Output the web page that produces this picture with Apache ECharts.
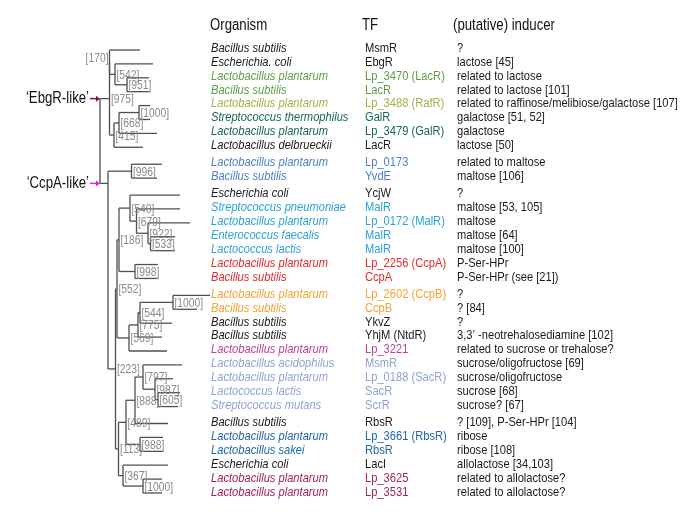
<!DOCTYPE html>
<html><head><meta charset="utf-8">
<script src="https://cdn.jsdelivr.net/npm/echarts/dist/echarts.min.js"></script>
<style>html,body{margin:0;padding:0;background:#fff}#c{width:685px;height:513px}</style>
</head><body><div id="c"></div>
<script>
// ---------- data ----------
const organisms = ['Bacillus subtilis','Escherichia. coli','Lactobacillus plantarum','Bacillus subtilis','Lactobacillus plantarum','Streptococcus thermophilus','Lactobacillus plantarum','Lactobacillus delbrueckii',
'Lactobacillus plantarum','Bacillus subtilis',
'Escherichia coli','Streptococcus pneumoniae','Lactobacillus plantarum','Enterococcus faecalis','Lactococcus lactis','Lactobacillus plantarum','Bacillus subtilis',
'Lactobacillus plantarum','Bacillus subtilis','Bacillus subtilis','Bacillus subtilis','Lactobacillus plantarum','Lactobacillus acidophilus','Lactobacillus plantarum','Lactococcus lactis','Streptococcus mutans',
'Bacillus subtilis','Lactobacillus plantarum','Lactobacillus sakei','Escherichia coli','Lactobacillus plantarum','Lactobacillus plantarum'];
const tfs = ['MsmR','EbgR','Lp_3470 (LacR)','LacR','Lp_3488 (RafR)','GalR','Lp_3479 (GalR)','LacR','Lp_0173','YvdE','YcjW','MalR','Lp_0172 (MalR)','MalR','MalR','Lp_2256 (CcpA)','CcpA','Lp_2602 (CcpB)','CcpB','YkvZ','YhjM (NtdR)','Lp_3221','MsmR','Lp_0188 (SacR)','SacR','ScrR','RbsR','Lp_3661 (RbsR)','RbsR','LacI','Lp_3625','Lp_3531'];
const inducers = ['?','lactose [45]','related to lactose','related to lactose [101]','related to raffinose/melibiose/galactose [107]','galactose [51, 52]','galactose','lactose [50]','related to maltose','maltose [106]','?','maltose [53, 105]','maltose','maltose [64]','maltose [100]','P-Ser-HPr','P-Ser-HPr (see [21])','?','? [84]','?','3,3\u2019 -neotrehalosediamine [102]','related to sucrose or trehalose?','sucrose/oligofructose [69]','sucrose/oligofructose','sucrose [68]','sucrose? [67]','? [109], P-Ser-HPr [104]','ribose','ribose [108]','allolactose [34,103]','related to allolactose?','related to allolactose?'];
const rowGroup = ['k','k','green','green','olive','dkgreen','dkgreen','k','blue','blue','k','cyan','cyan','cyan','cyan','red','red','orange','orange','k','k','magenta','lav','lav','lav','lav','k','dblue','dblue','k','plum','plum'];
const groupBreaks = [7, 9, 16, 25];           // a gap follows these rows
const tipDepth = [40,53,49,50,50,50,57,43,62,57,80,80,90,75,75,58,58,110,97,72,62,67,82,73,80,78,68,63,63,68,62,62];
const headers = ['Organism','TF','(putative) inducer'];
// tree: b = bootstrap label, d = node depth, c = children (numbers are leaf rows), at = row where the clade arrow points
const tree = {d:0, c:[
  {b:'975', d:9.5, name:'\u2018EbgR-like\u2019', c:[
    {b:'170', d:9.5, pos:'left', c:[0, {b:'542', d:15, c:[1, {b:'951', d:27, c:[2,3]}]}]},
    {b:'415', d:14, c:[{b:'668', d:19, c:[{b:'1000', d:39, c:[4,5]}, 6]}, 7]}]},
  {d:8, name:'\u2018CcpA-like\u2019', at:9.6, c:[
    {b:'996', d:31.5, c:[8,9]},
    {b:'223', d:15.5, c:[
      {b:'552', d:17, c:[
        {b:'186', d:19, c:[
          {b:'540', d:30, c:[10, {b:'679', d:36.5, c:[11, {b:'922', d:48, c:[12, {b:'533', d:50.5, c:[13,14]}]}]}]},
          {b:'998', d:35, c:[15,16]}]},
        {b:'569', d:29, c:[{b:'775', d:38, c:[{b:'544', d:40, c:[{b:'1000', d:73, c:[17,18]}, 19]}, 20]}, 21]}]},
      {b:'113', d:18.5, c:[
        {b:'489', d:26, c:[
          {b:'888', d:35, c:[{b:'797', d:43, c:[22, {b:'987', d:55, c:[23, {b:'605', d:58, c:[24,25]}]}]}, 26]},
          {b:'988', d:40, c:[27,28]}]},
        {b:'367', d:23, c:[29, {b:'1000', d:43, c:[30,31]}]}]}]}]}]};

// ---------- styles ----------
const palette = {k:'#1a1a1a', green:'#5f9c45', olive:'#a9ae45', dkgreen:'#17684a', blue:'#4c80c6', cyan:'#2ba1d9',
  red:'#e52a2a', orange:'#f5a233', magenta:'#c23c9b', lav:'#8ea3d4', dblue:'#1f67a6', plum:'#a0245d'};
const arrowColor = {'\u2018EbgR-like\u2019':'#8b1a1a', '\u2018CcpA-like\u2019':'#e21ee6'};
const FONT = '"Liberation Sans",Arial,sans-serif';
const SX = 0.825;   // condensed look
const GAP = 0.22;
const slot = organisms.map((_, i) => i + GAP * groupBreaks.filter(b => b < i).length);
const maxSlot = slot[slot.length - 1];

// ---------- tree layout ----------
const segs = [], boots = [], clades = [];
function layout(n, isRootChild) {
  if (typeof n === 'number') return {y: slot[n], d: tipDepth[n]};
  const kids = n.c.map(k => layout(k, n === tree));
  const y0 = kids[0].y, y1 = kids[kids.length - 1].y;
  if (y1 !== y0) segs.push([n.d, y0, n.d, y1]);
  const mid = (y0 + y1) / 2;
  const y = n.at !== undefined ? n.at : mid;
  kids.forEach(k => segs.push([n.d, k.y, k.d, k.y]));
  if (n.b) boots.push([n.d, mid, n.b, n.pos || 'right']);
  if (n.name) clades.push([0, y, n.name]);
  return {y, d: n.d};
}
layout(tree);

function txt(x, y, s, font, fill, align) {
  return {type:'text', x, y, scaleX: SX, style:{text:s, fill, font, align: align || 'left', verticalAlign:'middle'}};
}

const chart = echarts.init(document.getElementById('c'));
chart.setOption({
  animation: false,
  grid: [{left: 100, right: 0, top: 50, height: 443}, {left: 0, right: 0, top: 48, height: 444}],
  xAxis: [{type:'value', min:0, max:585, show:false, gridIndex:0}, {type:'value', min:0, max:685, show:false, gridIndex:1}],
  yAxis: [{type:'value', min:0, max:maxSlot, inverse:true, show:false, gridIndex:0}, {type:'value', min:0, max:maxSlot, inverse:true, show:false, gridIndex:1}],
  series: [
    {type:'custom', xAxisIndex:0, yAxisIndex:0, data: segs, silent:true,
     renderItem: (p, api) => {
       const a = api.coord([api.value(0), api.value(1)]), b = api.coord([api.value(2), api.value(3)]);
       return {type:'line', shape:{x1:a[0], y1:a[1], x2:b[0], y2:b[1]}, style:{stroke:'#505050', lineWidth:1.3}};
     }},
    {type:'custom', xAxisIndex:0, yAxisIndex:0, data: boots, silent:true,
     renderItem: (p, api) => {
       const d = boots[p.dataIndex];
       const a = api.coord([d[0], d[1]]);
       const left = d[3] === 'left';
       return txt(left ? a[0] - 1 : a[0] + 1.5, left ? a[1] - 4 : a[1] + 1, '[' + d[2] + ']', '12.5px ' + FONT, '#8a8a8a', left ? 'right' : 'left');
     }},
    {type:'custom', xAxisIndex:0, yAxisIndex:0, data: clades, silent:true,
     renderItem: (p, api) => {
       const d = clades[p.dataIndex];
       const a = api.coord([d[0], d[1]]);
       const col = arrowColor[d[2]];
       return {type:'group', children:[
         txt(a[0] - 11, a[1], d[2], '16px ' + FONT, '#111', 'right'),
         {type:'line', shape:{x1:a[0]-10, y1:a[1], x2:a[0]-3, y2:a[1]}, style:{stroke:col, lineWidth:1.5}},
         {type:'polygon', shape:{points:[[a[0]-4,a[1]-3],[a[0],a[1]],[a[0]-4,a[1]+3]]}, style:{fill:col}}]};
     }},
    {type:'custom', xAxisIndex:1, yAxisIndex:1, data: slot.map((s, i) => [i, s]), silent:true,
     renderItem: (p, api) => {
       const i = p.dataIndex, s = slot[i];
       const col = palette[rowGroup[i]];
       const o = api.coord([211, s]), t = api.coord([365, s]), q = api.coord([457, s]);
       return {type:'group', children:[
         txt(o[0], o[1], organisms[i], 'italic 13.5px ' + FONT, col),
         txt(t[0], t[1], tfs[i], '13.5px ' + FONT, col),
         txt(q[0], q[1], inducers[i], '13.5px ' + FONT, '#1a1a1a')]};
     }},
    {type:'custom', xAxisIndex:1, yAxisIndex:1, data: headers.map((h, i) => [i]), silent:true,
     renderItem: (p, api) => {
       const xs = [210, 362, 453];
       const a = api.coord([xs[p.dataIndex], -1.6]);
       return txt(a[0], a[1], headers[p.dataIndex], '16px ' + FONT, '#111');
     }}
  ]
});
</script></body></html>
